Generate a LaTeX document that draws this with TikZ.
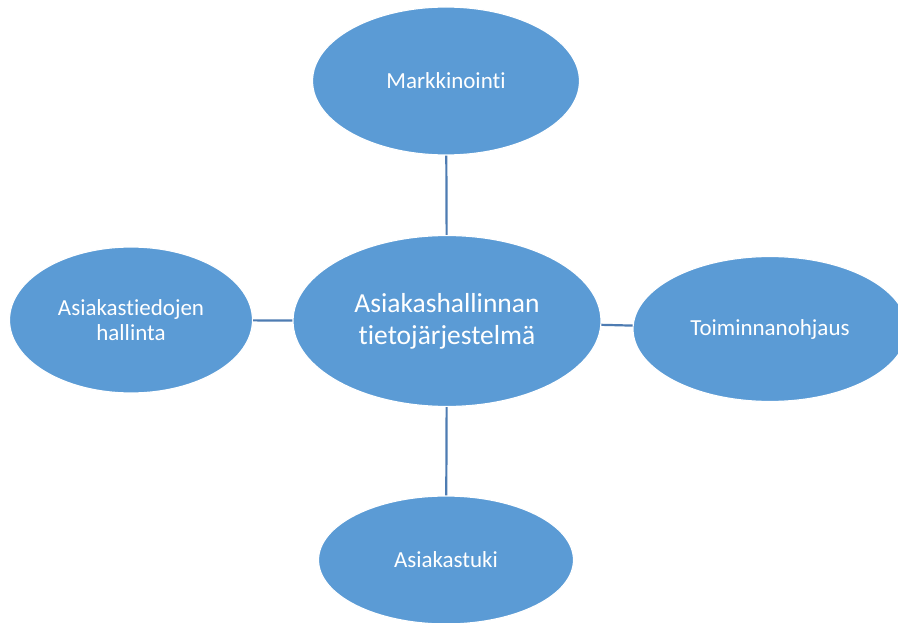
\documentclass[tikz,border=0pt]{standalone}
\usepackage{fontspec}
\setmainfont[Ligatures=NoCommon]{Carlito}
\usetikzlibrary{shapes.geometric}
\definecolor{bubblefill}{RGB}{91,155,213}
\definecolor{linkcol}{RGB}{78,124,178}
\tikzset{
  px/.style={x=1pt, y=-1pt},
  bubble/.style={ellipse, fill=bubblefill, draw=white, line width=1.2pt, text=white, inner sep=0pt, align=center,
    font=\fontsize{23}{25}\selectfont},
  corebubble/.style={bubble, font=\fontsize{27.5}{32}\selectfont},
  link/.style={linkcol, line width=2.2pt},
}
\begin{document}
\begin{tikzpicture}[px]
  \useasboundingbox (0,0) rectangle (898,623);
  % centre and the four topics round it
  \node[corebubble, minimum width=308pt, minimum height=171pt] (core) at (447,321) {Asiakashallinnan\\tietojärjestelmä};
  \node[bubble, minimum width=267pt, minimum height=148pt] (mark) at (446,81) {Markkinointi};
  \node[bubble, minimum width=243pt, minimum height=146pt] (data) at (131,320) {Asiakastiedojen\\hallinta};
  \node[bubble, minimum width=274pt, minimum height=145pt] (erp) at (770,329) {Toiminnanohjaus};
  \node[bubble, minimum width=255pt, minimum height=128pt] (support) at (446,560) {Asiakastuki};
  % connectors
  \draw[link] (mark) -- (core);
  \draw[link] (core) -- (support);
  \draw[link] (data) -- (core);
  \draw[link] (core) -- (erp);
\end{tikzpicture}
\end{document}
